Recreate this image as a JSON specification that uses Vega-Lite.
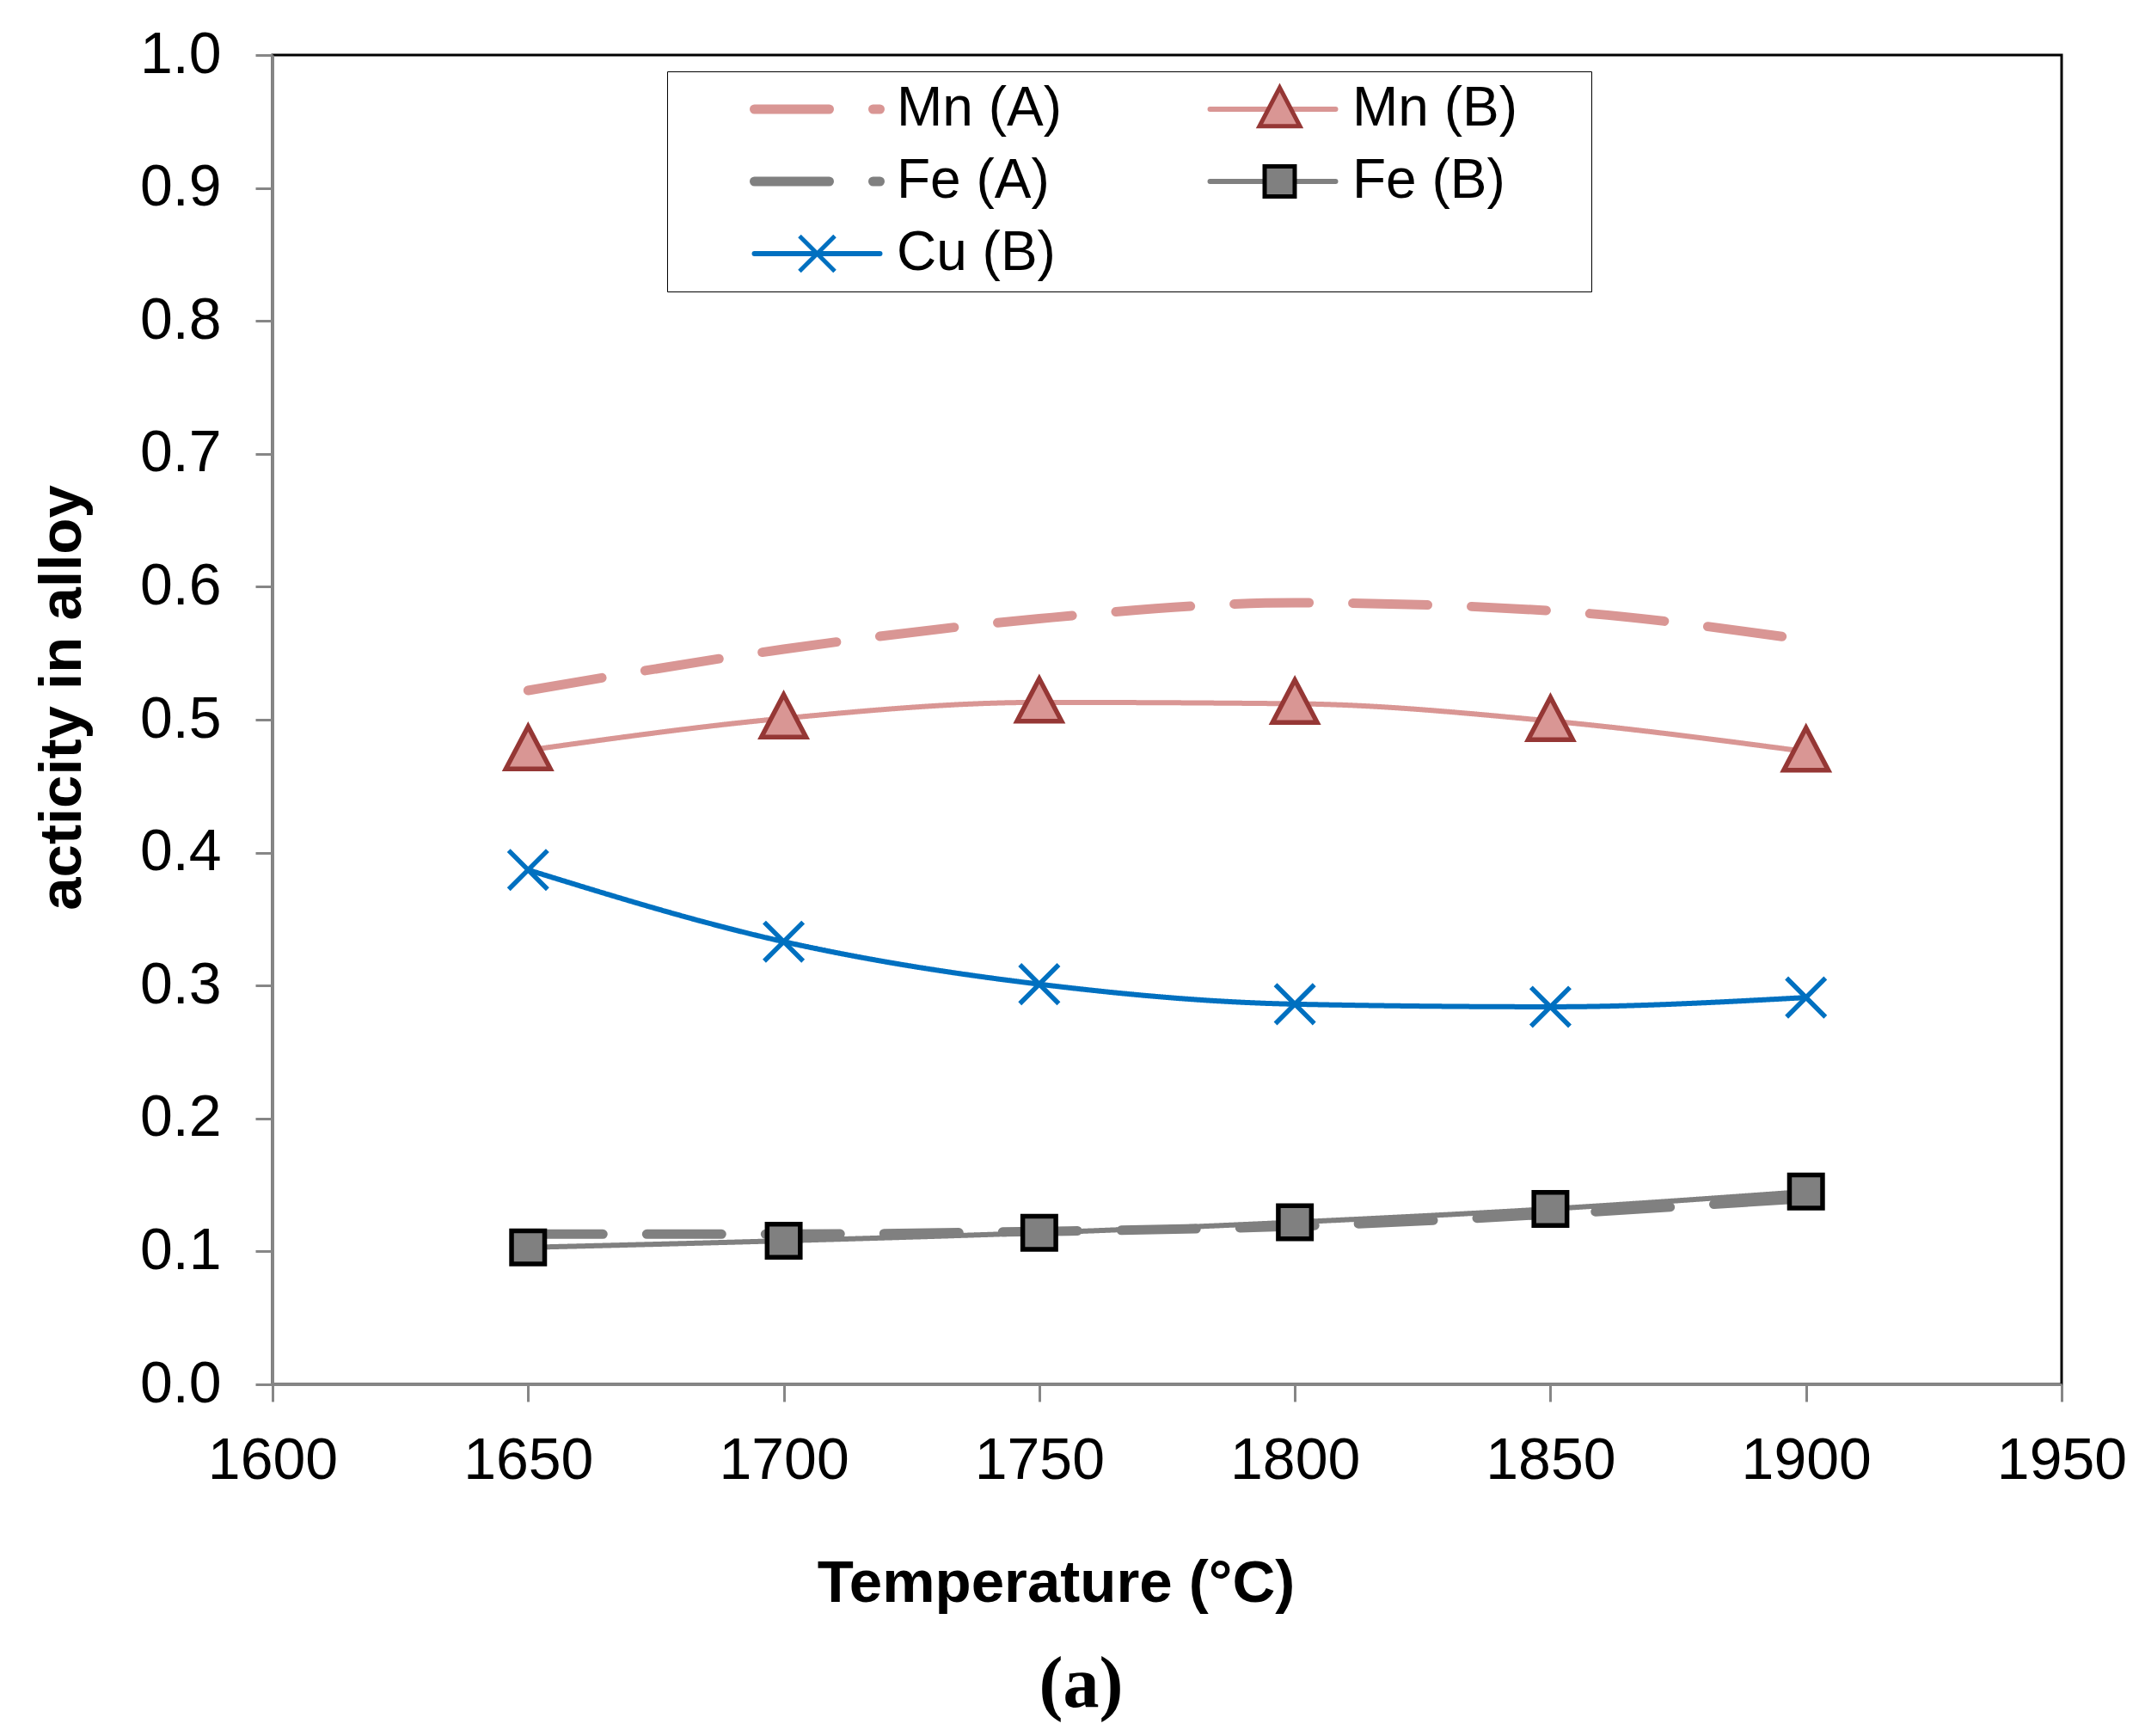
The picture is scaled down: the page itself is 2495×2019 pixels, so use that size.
{
  "$schema": "https://vega.github.io/schema/vega-lite/v6.json",
  "width": 2081,
  "height": 1546,
  "autosize": {"type": "none"},
  "padding": {"left": 317, "top": 64, "right": 97, "bottom": 409},
  "background": "white",
  "title": {
    "text": "(a)",
    "orient": "bottom",
    "anchor": "middle",
    "dx": -100,
    "offset": 43,
    "font": "Liberation Serif",
    "fontSize": 84,
    "fontWeight": "bold",
    "color": "black"
  },
  "config": {
    "view": {"stroke": "black", "strokeWidth": 3},
    "axis": {
      "labelFont": "Liberation Sans",
      "labelFontSize": 68,
      "labelColor": "black",
      "labelFlush": false,
      "labelOverlap": false,
      "titleFont": "Liberation Sans",
      "titleFontSize": 69,
      "titleFontWeight": "bold",
      "titleColor": "black",
      "domainColor": "#868686",
      "domainWidth": 3,
      "tickColor": "#868686",
      "tickWidth": 3,
      "tickSize": 20,
      "grid": false
    }
  },
  "data": {
    "values": [
      {"T": 1650, "a": 0.522, "s": "Mn (A)", "k": "Mn (A)*"},
      {"T": 1700, "a": 0.553, "s": "Mn (A)", "k": "Mn (A)*"},
      {"T": 1750, "a": 0.576, "s": "Mn (A)", "k": "Mn (A)*"},
      {"T": 1800, "a": 0.588, "s": "Mn (A)", "k": "Mn (A)*"},
      {"T": 1850, "a": 0.582, "s": "Mn (A)", "k": "Mn (A)*"},
      {"T": 1900, "a": 0.560, "s": "Mn (A)", "k": "Mn (A)*"},
      {"T": 1650, "a": 0.477, "s": "Mn (B)", "k": "Mn (B)*"},
      {"T": 1700, "a": 0.501, "s": "Mn (B)", "k": "Mn (B)*"},
      {"T": 1750, "a": 0.513, "s": "Mn (B)", "k": "Mn (B)*"},
      {"T": 1800, "a": 0.512, "s": "Mn (B)", "k": "Mn (B)*"},
      {"T": 1850, "a": 0.499, "s": "Mn (B)", "k": "Mn (B)*"},
      {"T": 1900, "a": 0.476, "s": "Mn (B)", "k": "Mn (B)*"},
      {"T": 1650, "a": 0.113, "s": "Fe (A)", "k": "Fe (A)*"},
      {"T": 1700, "a": 0.113, "s": "Fe (A)", "k": "Fe (A)*"},
      {"T": 1750, "a": 0.115, "s": "Fe (A)", "k": "Fe (A)*"},
      {"T": 1800, "a": 0.119, "s": "Fe (A)", "k": "Fe (A)*"},
      {"T": 1850, "a": 0.128, "s": "Fe (A)", "k": "Fe (A)*"},
      {"T": 1900, "a": 0.140, "s": "Fe (A)", "k": "Fe (A)*"},
      {"T": 1650, "a": 0.103, "s": "Fe (B)", "k": "Fe (B)*"},
      {"T": 1700, "a": 0.108, "s": "Fe (B)", "k": "Fe (B)*"},
      {"T": 1750, "a": 0.114, "s": "Fe (B)", "k": "Fe (B)*"},
      {"T": 1800, "a": 0.122, "s": "Fe (B)", "k": "Fe (B)*"},
      {"T": 1850, "a": 0.132, "s": "Fe (B)", "k": "Fe (B)*"},
      {"T": 1900, "a": 0.145, "s": "Fe (B)", "k": "Fe (B)*"},
      {"T": 1650, "a": 0.387, "s": "Cu (B)", "k": "Cu (B)*"},
      {"T": 1700, "a": 0.333, "s": "Cu (B)", "k": "Cu (B)*"},
      {"T": 1750, "a": 0.301, "s": "Cu (B)", "k": "Cu (B)*"},
      {"T": 1800, "a": 0.286, "s": "Cu (B)", "k": "Cu (B)*"},
      {"T": 1850, "a": 0.284, "s": "Cu (B)", "k": "Cu (B)*"},
      {"T": 1900, "a": 0.291, "s": "Cu (B)", "k": "Cu (B)*"}
    ]
  },
  "encoding": {
    "x": {
      "field": "T",
      "type": "quantitative",
      "scale": {"domain": [1600, 1950], "nice": false, "zero": false},
      "axis": {
        "title": "Temperature (°C)",
        "values": [1600, 1650, 1700, 1750, 1800, 1850, 1900, 1950],
        "format": "d",
        "labelPadding": 35,
        "titleX": 911,
        "titleY": 231,
        "titleAlign": "center",
        "titleBaseline": "middle"
      }
    },
    "y": {
      "field": "a",
      "type": "quantitative",
      "scale": {"domain": [0, 1], "nice": false},
      "axis": {
        "title": "acticity in alloy",
        "values": [0, 0.1, 0.2, 0.3, 0.4, 0.5, 0.6, 0.7, 0.8, 0.9, 1.0],
        "format": ".1f",
        "labelPadding": 40,
        "titleX": -245,
        "titleY": 747,
        "titleAlign": "center",
        "titleBaseline": "middle"
      }
    }
  },
  "layer": [
    {
      "mark": {"type": "line", "interpolate": "monotone", "strokeCap": "round"},
      "encoding": {
        "color": {
          "field": "s",
          "type": "nominal",
          "scale": {
            "domain": ["Mn (A)", "Mn (B)", "Fe (A)", "Fe (B)", "Cu (B)"],
            "range": ["#D99694", "#D99694", "#808080", "#808080", "#0070C0"]
          },
          "legend": {
            "title": null,
            "orient": "none",
            "direction": "horizontal",
            "legendX": 459,
            "legendY": 19,
            "columns": 2,
            "columnPadding": 73,
            "rowPadding": 0,
            "clipHeight": 84,
            "padding": 2,
            "symbolSize": 21316,
            "symbolOffset": 94,
            "labelOffset": 14,
            "labelLimit": 800,
            "labelFont": "Liberation Sans",
            "labelFontSize": 64,
            "labelColor": "black",
            "encode": {
              "symbols": {"update": {"strokeCap": {"value": "round"}}}
            }
          }
        },
        "strokeDash": {
          "field": "s",
          "type": "nominal",
          "scale": {
            "domain": ["Mn (A)", "Mn (B)", "Fe (A)", "Fe (B)", "Cu (B)"],
            "range": [[87, 51], [1, 0], [87, 51], [1, 0], [1, 0]]
          }
        },
        "strokeWidth": {
          "field": "s",
          "type": "nominal",
          "scale": {
            "type": "ordinal",
            "domain": ["Mn (A)", "Mn (B)", "Fe (A)", "Fe (B)", "Cu (B)"],
            "range": [11, 6, 11, 6, 6]
          }
        }
      }
    },
    {
      "transform": [{"filter": "indexof(datum.s, '(B)') >= 0"}],
      "mark": {"type": "point", "size": 28000, "strokeWidth": 5.5, "opacity": 1},
      "encoding": {
        "shape": {
          "field": "k",
          "type": "nominal",
          "scale": {
            "domain": ["Mn (A)*", "Mn (B)*", "Fe (A)*", "Fe (B)*", "Cu (B)*"],
            "range": [
              "M0,0",
              "M0,-0.33L-0.31,0.26L0.31,0.26Z",
              "M0,0",
              "M-0.23,-0.23H0.23V0.23H-0.23Z",
              "M-0.27,-0.27L0.27,0.27M-0.27,0.27L0.27,-0.27"
            ]
          },
          "legend": {
            "title": null,
            "orient": "none",
            "direction": "horizontal",
            "legendX": 459,
            "legendY": 19,
            "columns": 2,
            "columnPadding": 5,
            "rowPadding": 0,
            "clipHeight": 84,
            "padding": 2,
            "symbolSize": 23104,
            "symbolOffset": 94,
            "symbolStrokeWidth": 5,
            "labelOffset": 282,
            "labelFontSize": 64,
            "labelExpr": "''",
            "strokeColor": "black",
            "encode": {
              "legend": {"update": {"strokeWidth": {"value": 3}}}
            }
          }
        },
        "fill": {
          "field": "k",
          "type": "nominal",
          "scale": {
            "domain": ["Mn (A)*", "Mn (B)*", "Fe (A)*", "Fe (B)*", "Cu (B)*"],
            "range": ["transparent", "#D99694", "transparent", "#808080", "transparent"]
          }
        },
        "stroke": {
          "field": "k",
          "type": "nominal",
          "scale": {
            "domain": ["Mn (A)*", "Mn (B)*", "Fe (A)*", "Fe (B)*", "Cu (B)*"],
            "range": ["transparent", "#953735", "transparent", "#000000", "#0070C0"]
          }
        }
      }
    }
  ]
}
